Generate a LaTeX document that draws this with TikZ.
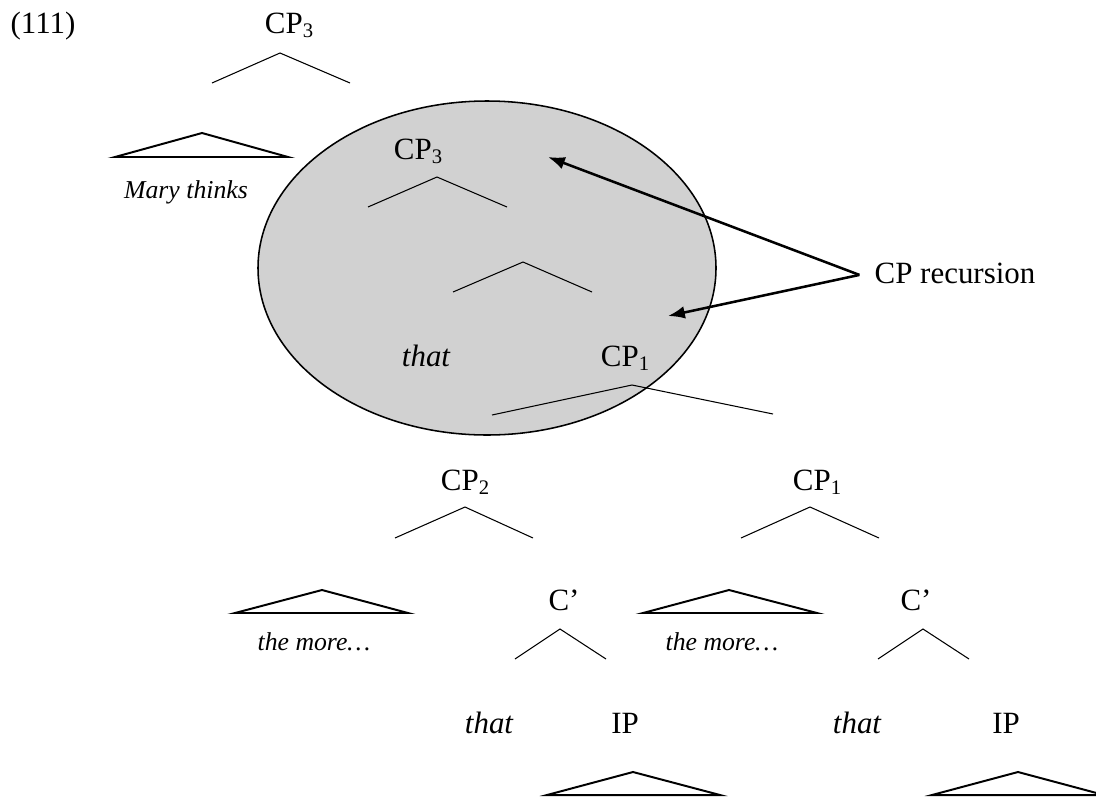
\documentclass[tikz,border=0pt]{standalone}
\usepackage{fontspec}
\setmainfont{Liberation Serif}
\usetikzlibrary{arrows.meta}

\newcommand{\lowsub}[1]{\raisebox{-3.5pt}{\fontsize{14.7}{16}\selectfont #1}}

\begin{document}
\begin{tikzpicture}[
    x=0.025cm, y=-0.025cm,
    every node/.style={inner sep=0pt, anchor=base, font=\fontsize{22}{26}\selectfont},
    gloss/.style={font=\fontsize{18.3}{22}\selectfont\itshape},
    word/.style={font=\fontsize{22}{26}\selectfont\itshape},
    branch/.style={line width=0.75pt},
    roof/.style={line width=1.4pt, line join=miter},
    pointer/.style={line width=1.8pt, -{Latex[length=12pt,width=9pt]}}
]
\useasboundingbox (0,0) rectangle (1096,797);

% shaded region
\draw[fill=black!18, line width=1.1pt] (487,268) ellipse [x radius=229, y radius=167];

% top of the tree
\node (ex) at (43,33) {(111)};
\node (cpa) at (289,33) {CP\lowsub{3}};
\draw[branch] (212,83) -- (280,53) -- (350,83);
\draw[roof] (115,157) -- (202,133) -- (288,157) -- cycle;
\node[gloss] (mary) at (186,198) {Mary thinks};

% inside the ellipse
\node (cpb) at (418,159) {CP\lowsub{3}};
\draw[branch] (368,207) -- (437,177) -- (507,207);
\draw[branch] (453,292) -- (523,262) -- (592,292);
\node[word] (thata) at (426,366) {that};
\node (cpc) at (625,366) {CP\lowsub{1}};
\draw[branch] (492,415) -- (632,385) -- (773,414);

% arrows
\node (rec) at (955,283) {CP recursion};
\coordinate (fork) at ([shift={(-15,2)}]rec.west);
\coordinate (tipa) at (548,157);
\coordinate (tipb) at (668,316);
\draw[pointer] (fork) -- (tipa);
\draw[pointer] (fork) -- (tipb);

% left subtree
\node (cpd) at (465,490) {CP\lowsub{2}};
\draw[branch] (395,538) -- (465,507) -- (533,538);
\draw[roof] (235,613) -- (322,590) -- (408,613) -- cycle;
\node[gloss] (morea) at (314,650) {the more…};
\node (cba) at (564,610) {C’};
\draw[branch] (515,659) -- (560,629) -- (606,659);
\node[word] (thatb) at (489,733) {that};
\node (ipa) at (625,733) {IP};
\draw[roof] (547,795) -- (633,772) -- (720,795) -- cycle;

% right subtree
\node (cpe) at (817,490) {CP\lowsub{1}};
\draw[branch] (741,538) -- (810,507) -- (879,538);
\draw[roof] (643,613) -- (729,590) -- (817,613) -- cycle;
\node[gloss] (moreb) at (722,650) {the more…};
\node (cbb) at (916,610) {C’};
\draw[branch] (878,659) -- (923,629) -- (969,659);
\node[word] (thatc) at (857,733) {that};
\node (ipb) at (1006,733) {IP};
\draw[roof] (932,795) -- (1018,772) -- (1104,795) -- cycle;
\end{tikzpicture}
\end{document}
